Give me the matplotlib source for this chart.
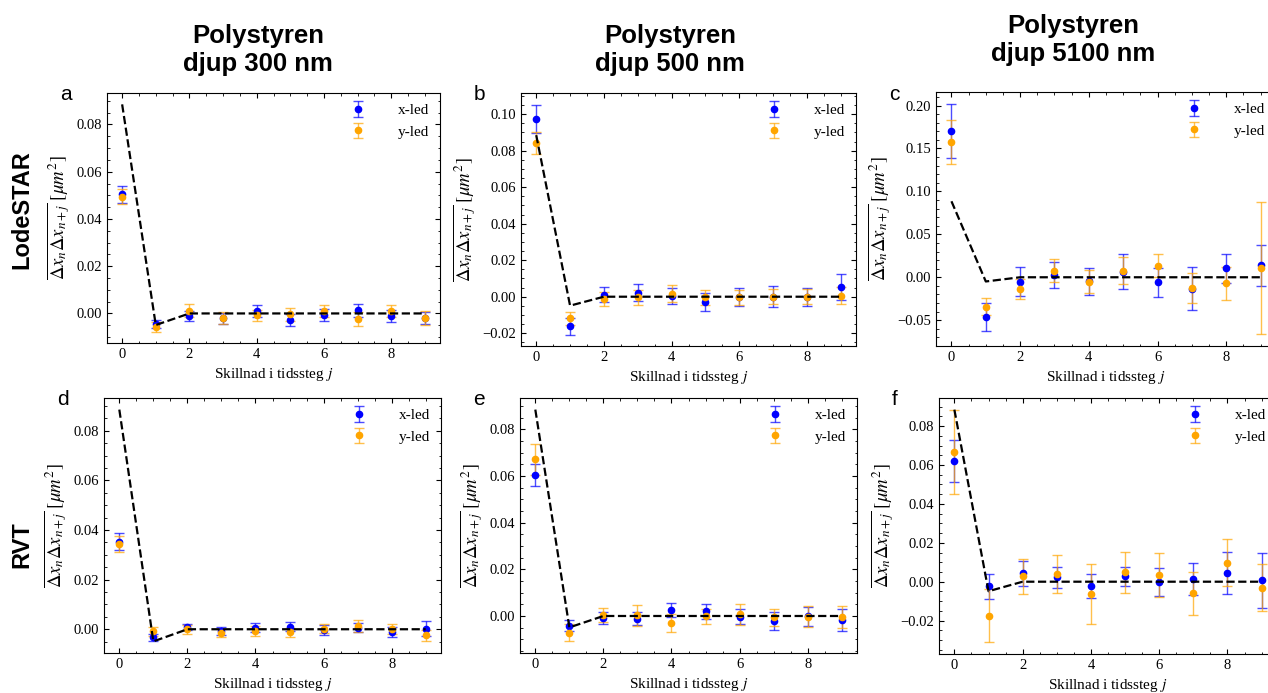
# Autocorrelation of displacements, LodeSTAR vs RVT, three depths

import matplotlib
matplotlib.use("Agg")
import matplotlib.pyplot as plt
import numpy as np

# ------------------------------
# Data
# ------------------------------

steps = np.arange(10)
theory = [0.0885, -0.0049, 0, 0, 0, 0, 0, 0, 0, 0]

column_titles = ["Polystyren\ndjup 300 nm", "Polystyren\ndjup 500 nm", "Polystyren\ndjup 5100 nm"]
row_titles = ["LodeSTAR", "RVT"]
panel_letters = ["a", "b", "c", "d", "e", "f"]

# a: LodeSTAR 300 nm
a_x = [0.0505, -0.0046, -0.0011, -0.0020, 0.0010, -0.0028, -0.0007, 0.0013, -0.0010, -0.0018]
a_x_err = [0.0036, 0.0017, 0.0023, 0.0024, 0.0024, 0.0024, 0.0024, 0.0028, 0.0025, 0.0025]
a_y = [0.0494, -0.0057, 0.0011, -0.0020, -0.0008, -0.0004, 0.0010, -0.0025, 0.0010, -0.0020]
a_y_err = [0.0032, 0.0020, 0.0027, 0.0025, 0.0024, 0.0027, 0.0025, 0.0030, 0.0026, 0.0030]

# b: LodeSTAR 500 nm
b_x = [0.0976, -0.0163, 0.0011, 0.0022, 0.0004, -0.0028, 0.0000, 0.0000, 0.0000, 0.0053]
b_x_err = [0.0077, 0.0044, 0.0040, 0.0045, 0.0045, 0.0050, 0.0050, 0.0058, 0.0050, 0.0073]
b_y = [0.0842, -0.0119, -0.0013, -0.0004, 0.0017, -0.0003, -0.0003, 0.0000, 0.0000, 0.0006]
b_y_err = [0.0060, 0.0036, 0.0038, 0.0040, 0.0047, 0.0040, 0.0040, 0.0040, 0.0042, 0.0048]

# c: LodeSTAR 5100 nm
c_x = [0.1706, -0.0460, -0.0050, 0.0030, -0.0046, 0.0066, -0.0058, -0.0135, 0.0104, 0.0140]
c_x_err = [0.0317, 0.0160, 0.0174, 0.0153, 0.0159, 0.0207, 0.0170, 0.0250, 0.0168, 0.0240]
c_y = [0.1574, -0.0344, -0.0135, 0.0077, -0.0050, 0.0077, 0.0135, -0.0128, -0.0070, 0.0104]
c_y_err = [0.0259, 0.0100, 0.0120, 0.0137, 0.0137, 0.0160, 0.0137, 0.0176, 0.0193, 0.0770]

# d: RVT 300 nm
d_x = [0.0352, -0.0033, 0.0009, -0.0007, 0.0007, 0.0011, -0.0004, 0.0007, -0.0012, 0.0003]
d_x_err = [0.0034, 0.0015, 0.0013, 0.0017, 0.0020, 0.0020, 0.0020, 0.0020, 0.0020, 0.0030]
d_y = [0.0344, -0.0008, 0.0000, -0.0015, -0.0008, -0.0013, 0.0003, 0.0013, 0.0000, -0.0025]
d_y_err = [0.0033, 0.0018, 0.0019, 0.0018, 0.0020, 0.0020, 0.0020, 0.0026, 0.0021, 0.0022]

# e: RVT 500 nm
e_x = [0.0604, -0.0041, -0.0010, -0.0011, 0.0026, 0.0020, -0.0004, -0.0021, -0.0001, -0.0017]
e_x_err = [0.0048, 0.0025, 0.0026, 0.0028, 0.0030, 0.0033, 0.0032, 0.0040, 0.0040, 0.0047]
e_y = [0.0671, -0.0072, 0.0004, 0.0004, -0.0030, -0.0001, 0.0008, -0.0006, -0.0003, -0.0004]
e_y_err = [0.0067, 0.0037, 0.0030, 0.0045, 0.0038, 0.0032, 0.0045, 0.0037, 0.0045, 0.0046]

# f: RVT 5100 nm
f_x = [0.0621, -0.0024, 0.0043, 0.0022, -0.0022, 0.0027, 0.0000, 0.0012, 0.0045, 0.0007]
f_x_err = [0.0108, 0.0063, 0.0064, 0.0053, 0.0064, 0.0050, 0.0073, 0.0082, 0.0110, 0.0143]
f_y = [0.0668, -0.0175, 0.0027, 0.0040, -0.0062, 0.0048, 0.0036, -0.0060, 0.0098, -0.0031]
f_y_err = [0.0217, 0.0137, 0.0092, 0.0097, 0.0155, 0.0105, 0.0114, 0.0110, 0.0120, 0.0120]

panels = [
    (a_x, a_x_err, a_y, a_y_err),
    (b_x, b_x_err, b_y, b_y_err),
    (c_x, c_x_err, c_y, c_y_err),
    (d_x, d_x_err, d_y, d_y_err),
    (e_x, e_x_err, e_y, e_y_err),
    (f_x, f_x_err, f_y, f_y_err),
]

# axes boxes in pixels: left, top, width, height
boxes = [
    (107, 93, 333, 250),
    (521, 93, 335, 253),
    (936, 92, 340, 254),
    (104, 398, 337, 255),
    (520, 398, 337, 255),
    (939, 398, 338, 256),
]

# ------------------------------
# Style
# ------------------------------

plt.rcParams["font.family"] = "Liberation Serif"
plt.rcParams["mathtext.fontset"] = "stix"
plt.rcParams["xtick.direction"] = "in"
plt.rcParams["ytick.direction"] = "in"
plt.rcParams["xtick.top"] = True
plt.rcParams["ytick.right"] = True
plt.rcParams["xtick.minor.visible"] = True
plt.rcParams["ytick.minor.visible"] = True
plt.rcParams["xtick.major.size"] = 3.5
plt.rcParams["ytick.major.size"] = 3.5
plt.rcParams["xtick.minor.size"] = 1.8
plt.rcParams["ytick.minor.size"] = 1.8
plt.rcParams["axes.linewidth"] = 0.8

W, H = 1268, 693
fig = plt.figure(figsize=(W / 100, H / 100), dpi=100)

for k, (xv, xe, yv, ye) in enumerate(panels):
    left, top, w, h = boxes[k]
    ax = fig.add_axes([left / W, 1 - (top + h) / H, w / W, h / H])

    ax.errorbar(steps, xv, yerr=xe, fmt="o", color="blue", ms=4.5,
                ecolor=(0, 0, 1, 0.7), elinewidth=1, capsize=3.5, label="x-led")
    ax.errorbar(steps, yv, yerr=ye, fmt="o", color="orange", ms=4.5,
                ecolor=(1, 0.65, 0, 0.7), elinewidth=1, capsize=3.5, label="y-led")
    ax.plot(steps, theory, "--", color="black", lw=1.6, zorder=5)

    ax.set_xticks([0, 2, 4, 6, 8])
    ax.tick_params(labelsize=10.5)
    ax.set_xlabel("Skillnad i tidssteg $j$", fontsize=11)
    ax.set_ylabel(r"$\overline{\Delta x_n \Delta x_{n+j}}$ $[\mu m^2]$", fontsize=13.5, labelpad=3)
    ax.legend(loc="upper right", frameon=False, fontsize=11,
              handletextpad=1.6, borderaxespad=0.3)

    fig.text((left - 47) / W, 1 - (top + 2) / H, panel_letters[k],
             fontsize=15, family="Liberation Sans", ha="left", va="center")

# column and row titles
title_x = [258, 670, 1073]
title_y = [50, 50, 40]
for i, t in enumerate(column_titles):
    fig.text(title_x[i] / W, 1 - title_y[i] / H, t, ha="center", va="center",
             fontsize=18.5, fontweight="bold", family="Liberation Sans", linespacing=1.2)

row_y = [210, 545]
for i, t in enumerate(row_titles):
    fig.text(22 / W, 1 - row_y[i] / H, t, ha="center", va="center", rotation=90,
             fontsize=17, fontweight="bold", family="Liberation Sans")

fig.savefig("out.png", dpi=100)
